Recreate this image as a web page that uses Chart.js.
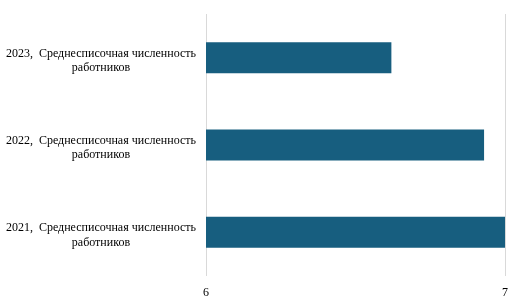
<!DOCTYPE html>
<html>
<head>
<meta charset="utf-8">
<script src="https://cdn.jsdelivr.net/npm/chart.js@4/dist/chart.umd.min.js"></script>
<style>
html,body{margin:0;padding:0;background:#fff;}
#wrap{width:523px;height:306px;position:relative;}
</style>
</head>
<body>
<div id="wrap"><canvas id="c" width="523" height="306"></canvas></div>
<script>
const years = ['2023', '2022', '2021'];
const seriesName = 'Среднесписочная численность';
const seriesNameLine2 = 'работников';
const values = [6.62, 6.93, 7.0];
const xTicks = [6, 7];

const labels = years.map(y => [y + ',  ' + seriesName, seriesNameLine2]);

new Chart(document.getElementById('c'), {
  type: 'bar',
  data: {
    labels: labels,
    datasets: [{
      data: values,
      backgroundColor: '#175e7f',
      borderWidth: 0,
      barPercentage: 0.355,
      categoryPercentage: 1.0
    }]
  },
  options: {
    indexAxis: 'y',
    responsive: false,
    animation: false,
    events: [],
    layout: { padding: { top: 14, right: 18, left: 0, bottom: 0 } },
    plugins: { legend: { display: false }, tooltip: { enabled: false } },
    scales: {
      x: {
        min: xTicks[0],
        max: xTicks[xTicks.length - 1],
        afterBuildTicks: s => { s.ticks = xTicks.map(v => ({ value: v })); },
        grid: { color: '#d9d9d9', lineWidth: 1, drawTicks: false },
        border: { display: false },
        ticks: {
          padding: 10,
          color: '#000',
          font: { family: 'Liberation Serif', size: 12 }
        },
        afterFit: s => { s.height = 30; s.paddingLeft = 0; s.paddingRight = 0; }
      },
      y: {
        grid: { display: false },
        border: { display: false },
        ticks: {
          crossAlign: 'center',
          padding: 2,
          labelOffset: 3,
          color: '#000',
          font: { family: 'Liberation Serif', size: 12, lineHeight: 1.2 }
        },
        afterFit: s => { s.width = 206; s.paddingTop = 0; s.paddingBottom = 0; }
      }
    }
  }
});
</script>
</body>
</html>
